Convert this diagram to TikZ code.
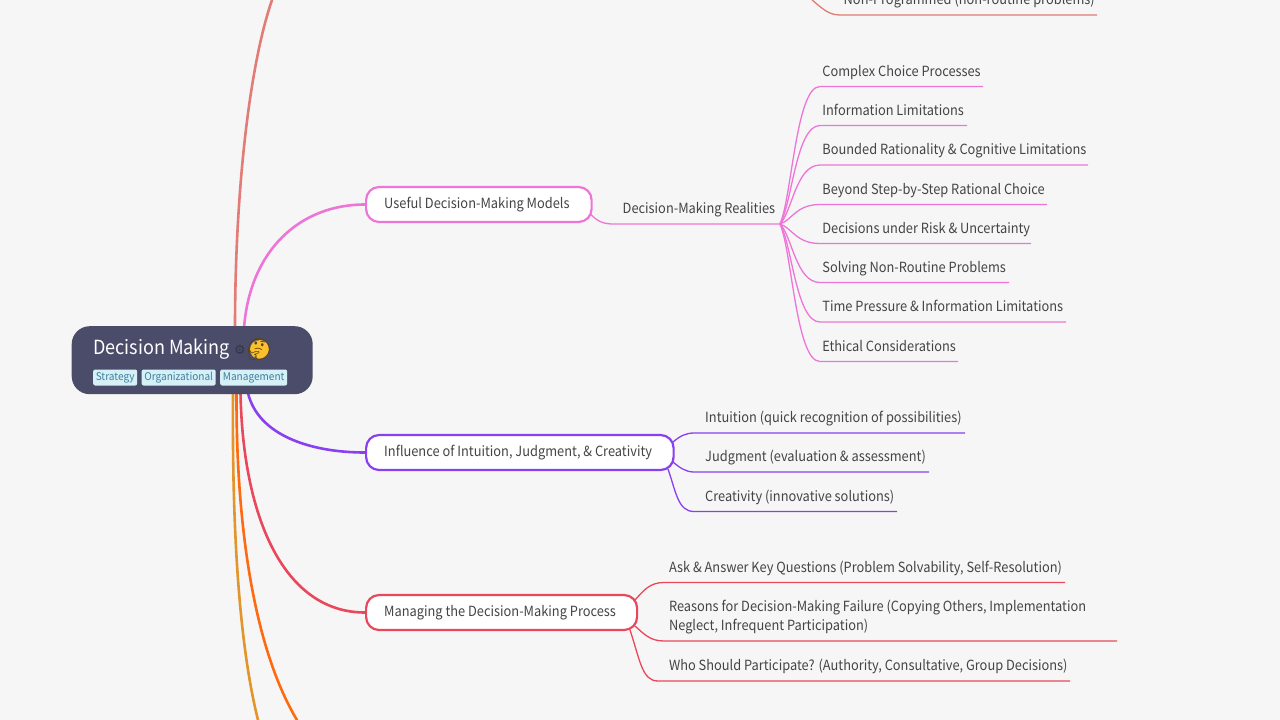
\documentclass[tikz,border=0pt]{standalone}
\usepackage{fontspec}
\setmainfont[FakeStretch=0.916]{Noto Sans CJK SC}
\newfontfamily\tagfont[FakeStretch=0.95]{Noto Sans CJK SC}
\newfontfamily\titlefont[FakeStretch=0.925]{Noto Sans CJK SC}
\newfontfamily\emojifont{Noto Emoji}
\newfontfamily\symfont{DejaVu Sans}
\definecolor{bgc}{HTML}{F6F6F6}
\definecolor{rootc}{HTML}{4A4C6A}
\definecolor{salmon}{HTML}{E27C77}
\definecolor{pinkc}{HTML}{EE75D8}
\definecolor{violetc}{HTML}{8A3FF0}
\definecolor{redc}{HTML}{E9475B}
\definecolor{orangec}{HTML}{FF6A10}
\definecolor{amberc}{HTML}{E2952A}
\definecolor{txt}{HTML}{444444}
\definecolor{tagbg}{HTML}{D5F0F7}
\definecolor{tagfg}{HTML}{3F7F9A}
\definecolor{facec}{HTML}{FBC02D}
\tikzset{
  x=1pt,y=-1pt,
  branch/.style={line width=2.6pt,line cap=round},
  sub/.style={line width=1.3pt},
  topic/.style={draw,line width=2.2pt,fill=white,rounded corners=13pt,inner sep=0pt,text=txt,font=\fontsize{14}{18}\selectfont},
  leaf/.style={anchor=base west,inner sep=0pt,text=txt,font=\fontsize{14}{19}\selectfont},
  tagbox/.style={fill=tagbg,text=tagfg,rounded corners=2pt,inner sep=0pt,font=\tagfont\fontsize{10.6}{12}\selectfont,anchor=west},
}
\begin{document}
\begin{tikzpicture}
\useasboundingbox (0,0) rectangle (1280,720);
\fill[bgc] (0,0) rectangle (1280,720);
\coordinate (rt) at (235,328);
\coordinate (rp) at (244,328);
\coordinate (rv) at (248,393);
\coordinate (rr) at (240.5,393);
\coordinate (ro) at (236.5,393);
\coordinate (ra) at (233,393);
\coordinate (offt) at (272,0);
\coordinate (offo) at (297,720);
\coordinate (offa) at (258,720);
% main branches
\draw[branch,salmon] (rt) .. controls (235,200) and (248,70) .. (offt);
\draw[branch,amberc] (ra) .. controls (232,520) and (238,640) .. (offa);
\draw[branch,orangec] (ro) .. controls (236,530) and (255,650) .. (offo);
\node[topic,draw=pinkc,minimum width=225.5pt,minimum height=35pt,anchor=west] (t1) at (365,204.5) {};
\node[topic,draw=violetc,minimum width=307.5pt,minimum height=35pt,anchor=west] (t2) at (365,452.5) {};
\node[topic,draw=redc,minimum width=271pt,minimum height=35pt,anchor=west] (t3) at (365,612.5) {};
\draw[branch,pinkc] (rp) .. controls (250,250) and (300,204.5) .. (t1.west);
\draw[branch,violetc] (rv) .. controls (258,435) and (310,452.5) .. (t2.west);
\draw[branch,redc] (rr) .. controls (243,520) and (285,612.5) .. (t3.west);
\node[leaf] at (384,208) {Useful Decision-Making Models};
\node[leaf] at (384,456) {Influence of Intuition, Judgment, \& Creativity};
\node[leaf] at (384,616) {Managing the Decision-Making Process};
% root
\node[fill=rootc,rounded corners=18pt,minimum width=241pt,minimum height=68pt,inner sep=0pt,anchor=north west] (root) at (71.5,326) {};
\node[anchor=base west,inner sep=0pt,text=white,font=\titlefont\fontsize{19.5}{24}\selectfont] (rtitle) at (93,354.5) {Decision Making};
\node[anchor=center,inner sep=0pt,text=rootc!70!black,font=\symfont\fontsize{13}{14}\selectfont] (gear) at (240,349.5) {⚙};
\fill[facec] (259.5,349.5) circle (9.5pt);
\node[anchor=center,inner sep=0pt,text=black!65!facec,font=\emojifont\fontsize{21}{23}\selectfont] (face) at (259,349.5) {🤔};
\node[tagbox,minimum width=44pt,minimum height=16pt] (tg1) at (93,377.5) {\raisebox{-2pt}{Strategy}};
\node[tagbox,minimum width=74pt,minimum height=16pt] (tg2) at (141.5,377.5) {\raisebox{-2pt}{Organizational}};
\node[tagbox,minimum width=67pt,minimum height=16pt] (tg3) at (220,377.5) {\raisebox{-2pt}{Management}};
% Decision-making realities
\coordinate (hub) at (780,224);
\node[leaf] (dr) at (622.5,213.5) {Decision-Making Realities};
\draw[sub,pinkc] (591,214.5) .. controls (598,222) and (604,224) .. (614,224) -- (hub);
\foreach \yy/\xe/\tx in {
 71/983/{Complex Choice Processes},
 110/967/{Information Limitations},
 149.5/1088/{Bounded Rationality \& Cognitive Limitations},
 189/1047/{Beyond Step-by-Step Rational Choice},
 228/1031/{Decisions under Risk \& Uncertainty},
 267/1009/{Solving Non-Routine Problems},
 306.5/1066/{Time Pressure \& Information Limitations},
 346/958/{Ethical Considerations}}{
  \node[leaf] at (822.2,\yy+5.3) {\tx};
  \pgfmathsetmacro{\ly}{\yy+15.5}
  \pgfmathsetmacro{\cy}{224+0.2*(\ly-224)}
  \draw[sub,pinkc] (hub) .. controls (792,\cy) and (796,\ly) .. (820,\ly) -- (\xe,\ly);
}
% Intuition
\node[leaf] at (705,422.3) {Intuition (quick recognition of possibilities)};
\draw[sub,violetc] (673,442) .. controls (680,436) and (686,433) .. (694,433) -- (965,433);
\node[leaf] at (705,461.8) {Judgment (evaluation \& assessment)};
\draw[sub,violetc] (673,462) .. controls (680,468) and (686,472) .. (694,472) -- (929,472);
\node[leaf] at (705,501) {Creativity (innovative solutions)};
\draw[sub,violetc] (668,469) .. controls (676,492) and (678,511.5) .. (694,511.5) -- (897,511.5);
% Managing
\node[leaf] at (668.8,572.3) {Ask \& Answer Key Questions (Problem Solvability, Self-Resolution)};
\draw[sub,redc] (635,600) .. controls (644,590) and (650,582.5) .. (664,582.5) -- (1065,582.5);
\node[leaf] at (668.8,611.8) {Reasons for Decision-Making Failure (Copying Others, Implementation};
\node[leaf] at (668.8,630.8) {Neglect, Infrequent Participation)};
\draw[sub,redc] (635,626) .. controls (644,634) and (650,641) .. (664,641) -- (1117,641);
\node[leaf] at (668.8,670.3) {Who Should Participate? (Authority, Consultative, Group Decisions)};
\draw[sub,redc] (630,630) .. controls (640,660) and (642,681) .. (658,681) -- (1070,681);
% salmon leaf
\node[leaf] at (843.5,5) {Non-Programmed (non-routine problems)};
\draw[sub,salmon] (812,0) .. controls (822,8) and (828,15) .. (840,15) -- (1097,15);
\end{tikzpicture}
\end{document}
